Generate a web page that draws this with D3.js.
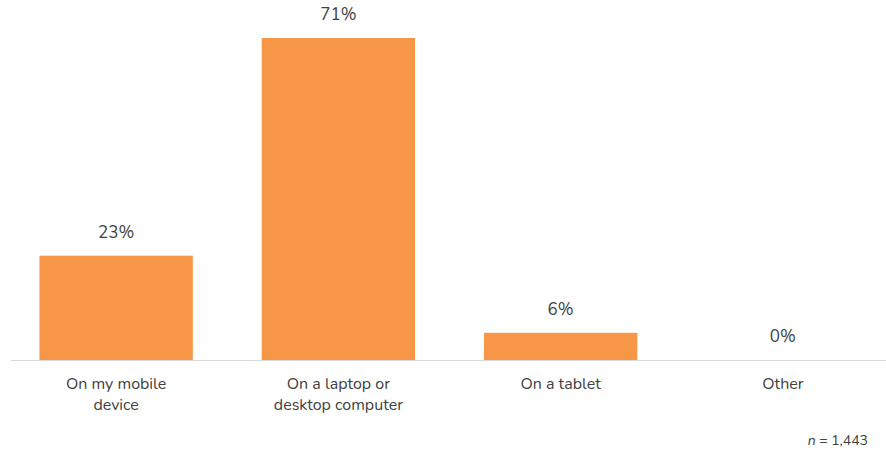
<!DOCTYPE html>
<html>
<head>
<meta charset="utf-8">
<script src="https://cdn.jsdelivr.net/npm/d3@7"></script>
<style>
  body { margin: 0; background: #fff; }
  text { font-family: "Nunito", Lato, "Open Sans", sans-serif; fill: #404040; }
</style>
</head>
<body>
<div id="chart"></div>
<script>
const categories = [["On my mobile", "device"], ["On a laptop or", "desktop computer"], ["On a tablet"], ["Other"]]
const values = [23, 71, 6, 0]
const valueLabels = ["23%", "71%", "6%", "0%"]
const note = "n = 1,443"

const width = 886
const height = 450
const baseY = 360

const svg = d3.select("#chart")
    .append("svg")
    .attr("width", width)
    .attr("height", height)

const x = d3.scaleBand()
    .domain(d3.range(values.length))
    .range([5, 894])
    .paddingInner(0.31)
    .paddingOuter(0.155)

const y = d3.scaleLinear()
    .domain([0, 71])
    .range([baseY, 38])

// bars
svg.append("g")
    .attr("fill", "#F79646")
    .selectAll("rect")
    .data(values)
    .join("rect")
    .attr("x", (d, i) => x(i))
    .attr("y", d => y(d))
    .attr("width", x.bandwidth())
    .attr("height", d => y(0) - y(d))

// baseline
svg.append("line")
    .attr("x1", 11)
    .attr("x2", width)
    .attr("y1", baseY + 0.5)
    .attr("y2", baseY + 0.5)
    .attr("stroke", "#d9d9d9")
    .attr("stroke-width", 1)

// value labels
svg.append("g")
    .selectAll("text")
    .data(values)
    .join("text")
    .attr("x", (d, i) => x(i) + x.bandwidth() / 2)
    .attr("y", d => y(d) - 18)
    .attr("text-anchor", "middle")
    .attr("font-size", 17)
    .text((d, i) => valueLabels[i])

// category labels
const cat = svg.append("g")
    .selectAll("text")
    .data(categories)
    .join("text")
    .attr("x", (d, i) => x(i) + x.bandwidth() / 2)
    .attr("y", baseY + 29)
    .attr("text-anchor", "middle")
    .attr("font-size", 16)

cat.selectAll("tspan")
    .data(d => d)
    .join("tspan")
    .attr("x", function () { return this.parentNode.getAttribute("x") })
    .attr("dy", (d, i) => i === 0 ? 0 : 21)
    .text(d => d)

// note
const n = svg.append("text")
    .attr("x", 868)
    .attr("y", 445)
    .attr("text-anchor", "end")
    .attr("font-size", 14)
n.append("tspan").attr("font-style", "italic").text("n")
n.append("tspan").text(note.slice(1))
</script>
</body>
</html>
